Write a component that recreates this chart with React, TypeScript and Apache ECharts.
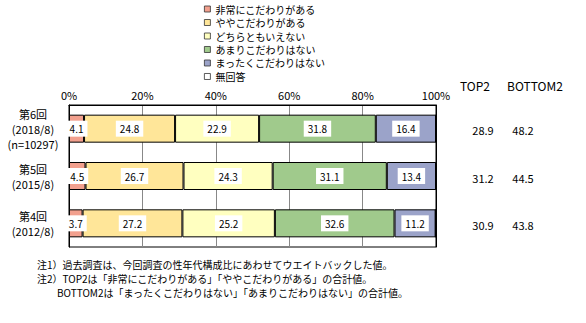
import { useEffect, useRef } from "react";
import * as echarts from "echarts";

const categories = ["第6回\n(2018/8)\n(n=10297)", "第5回\n(2015/8)", "第4回\n(2012/8)"];
const seriesNames = [
  "非常にこだわりがある",
  "ややこだわりがある",
  "どちらともいえない",
  "あまりこだわりはない",
  "まったくこだわりはない",
  "無回答",
];
const veryMuch = [4.1, 4.5, 3.7];
const somewhat = [24.8, 26.7, 27.2];
const neither = [22.9, 24.3, 25.2];
const notMuch = [31.8, 31.1, 32.6];
const notAtAll = [16.4, 13.4, 11.2];
const noAnswer = [0, 0, 0];
const top2 = [28.9, 31.2, 30.9];
const bottom2 = [48.2, 44.5, 43.8];
const notes = [
  "注1）過去調査は、今回調査の性年代構成比にあわせてウエイトバックした値。",
  "注2）TOP2は「非常にこだわりがある」「ややこだわりがある」の合計値。",
  "BOTTOM2は「まったくこだわりはない」「あまりこだわりはない」の合計値。",
];

const colors = ["#F2A08E", "#FFE699", "#FFFFC0", "#A0CA8C", "#9BA3C9", "#FFFFFF"];
const FONT = "'Noto Sans CJK JP', sans-serif";

export default function App() {
  const ref = useRef<HTMLDivElement>(null);
  useEffect(() => {
    if (!ref.current) return;
    const chart = echarts.init(ref.current, null, { renderer: "svg" });
    const values = [veryMuch, somewhat, neither, notMuch, notAtAll, noAnswer];
    chart.setOption({
      animation: false,
      textStyle: { fontFamily: FONT },
      color: colors,
      legend: {
        orient: "vertical",
        left: 199,
        top: -1,
        itemWidth: 6,
        itemHeight: 6,
        itemGap: 3.5,
        icon: "rect",
        data: seriesNames,
        itemStyle: { borderColor: "#333", borderWidth: 0.8 },
        textStyle: { fontSize: 10, color: "#000", fontFamily: FONT },
      },
      grid: {
        left: 69,
        right: 150,
        top: 105,
        bottom: 76,
        show: true,
        borderColor: "#000",
        borderWidth: 1,
        backgroundColor: "transparent",
      },
      xAxis: {
        type: "value",
        position: "top",
        min: 0,
        max: 100,
        interval: 20,
        axisLine: { show: true, lineStyle: { color: "#000" } },
        axisTick: { show: false },
        splitLine: { show: true, lineStyle: { color: "#888" } },
        axisLabel: { formatter: "{value}%", fontSize: 11, color: "#000", margin: 5 },
      },
      yAxis: [
        {
          type: "category",
          data: categories,
          inverse: true,
          axisLine: { show: true, lineStyle: { color: "#000" } },
          axisTick: { show: false },
          axisLabel: {
            align: "center",
            margin: 36,
            fontSize: 11,
            lineHeight: 15,
            color: "#000",
          },
        },
        {
          type: "category",
          data: categories,
          inverse: true,
          position: "right",
          axisLine: { show: true, lineStyle: { color: "#000" } },
          axisTick: { show: false },
          axisLabel: {
            align: "left",
            margin: 27,
            formatter: (_v: string, i: number) => `{a|${top2[i].toFixed(1)}}{b|${bottom2[i].toFixed(1)}}`,
            rich: {
              a: { width: 40, align: "center", fontSize: 11, color: "#000", padding: [3, 0, 0, 0] },
              b: { width: 40, align: "center", fontSize: 11, color: "#000", padding: [3, 0, 0, 0] },
            },
          },
        },
      ],
      series: seriesNames.map((name, i) => ({
        name,
        type: "bar",
        stack: "total",
        barWidth: 28,
        data: values[i],
        itemStyle: { color: colors[i], borderColor: "#000", borderWidth: 1 },
        label: {
          show: i < 5,
          position: "inside",
          formatter: (p: any) => Number(p.value).toFixed(1),
          backgroundColor: "#fff",
          padding: [3, 4],
          color: "#000",
          fontSize: 10,
        },
      })),
      graphic: [
        { type: "text", left: 460, top: 79, style: { text: "TOP2", fontSize: 12, fill: "#000", fontFamily: FONT } },
        { type: "text", left: 507, top: 79, style: { text: "BOTTOM2", fontSize: 12, fill: "#000", fontFamily: FONT } },
        { type: "text", left: 37, top: 259, style: { text: notes[0], fontSize: 10, fill: "#000", fontFamily: FONT } },
        { type: "text", left: 37, top: 273, style: { text: notes[1], fontSize: 10, fill: "#000", fontFamily: FONT } },
        { type: "text", left: 57, top: 287, style: { text: notes[2], fontSize: 10, fill: "#000", fontFamily: FONT } },
      ],
    });
    return () => chart.dispose();
  }, []);
  return (
    <div
      ref={ref}
      style={{ position: "fixed", left: 0, top: 0, width: 586, height: 323, background: "#fff" }}
    />
  );
}
